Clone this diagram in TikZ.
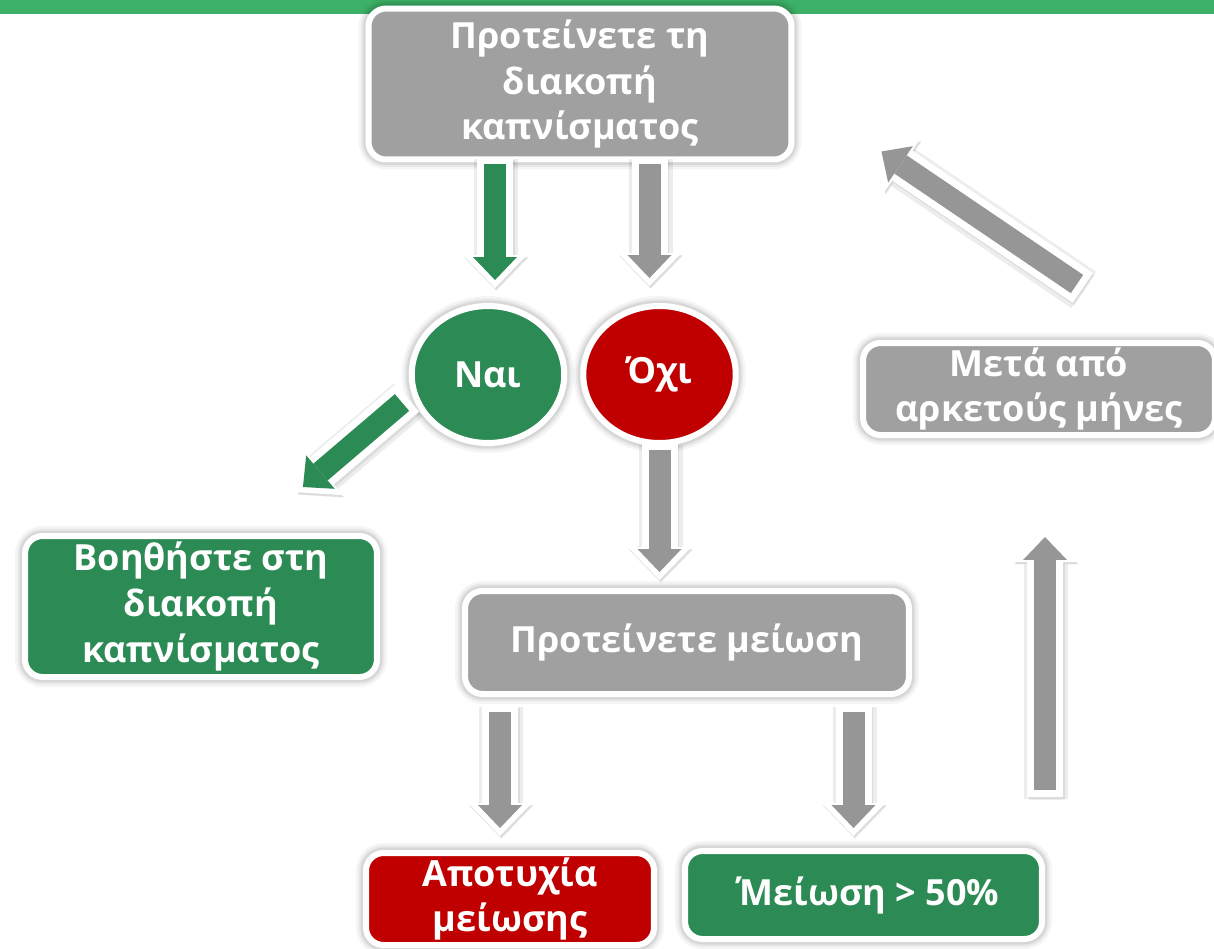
\documentclass[tikz,border=0pt]{standalone}
\usepackage{fontspec}
\newfontfamily\boxfont{Open Sans}
\usetikzlibrary{shapes.geometric,arrows.meta,shadows,calc}
\definecolor{boxgrey}{RGB}{160,160,160}
\definecolor{flowgrey}{RGB}{150,150,150}
\definecolor{boxgreen}{RGB}{44,138,84}
\definecolor{boxred}{RGB}{192,0,0}
\definecolor{topbar}{RGB}{60,176,102}
\tikzset{
    box/.style={
        draw=white,
        line width=0.12cm,
        rounded corners=0.35cm,
        text=white,
        align=center,
        inner sep=0pt,
        font=\boxfont\bfseries\fontsize{20.5}{26}\selectfont,
        drop shadow={shadow xshift=0.03cm, shadow yshift=-0.06cm, opacity=0.18},
        preaction={draw=black, draw opacity=0.04, line width=0.40cm},
        preaction={draw=black, draw opacity=0.05, line width=0.30cm},
        preaction={draw=black, draw opacity=0.07, line width=0.22cm}
    },
    yesno/.style={box, ellipse, minimum width=3.05cm, minimum height=2.74cm},
    flowrim/.style={white, line width=0.72cm, -{Triangle[length=0.66cm, width=1.28cm, line width=0pt]}},
    flowshade/.style={flowrim, draw=black, opacity=0.07},
    flowbody/.style={line width=0.44cm, -{Triangle[length=0.46cm, width=0.88cm, line width=0pt]}}
}
\newcommand{\flow}[3]{
    \draw[flowshade, line width=0.88cm, transform canvas={xshift=0.02cm, yshift=-0.04cm}] ($(#2)!-0.14cm!(#3)$) -- ($(#3)!-0.16cm!(#2)$);
    \draw[flowshade, transform canvas={xshift=0.03cm, yshift=-0.05cm}] ($(#2)!-0.14cm!(#3)$) -- ($(#3)!-0.16cm!(#2)$);
    \draw[flowrim] ($(#2)!-0.14cm!(#3)$) -- ($(#3)!-0.16cm!(#2)$);
    \draw[flowbody, #1] (#2) -- (#3);
}

\begin{document}
\begin{tikzpicture}[x=0.02cm, y=-0.02cm]
    \useasboundingbox (0,0) rectangle (1214,948);
    \clip (0,0) rectangle (1214,948);
    \fill[white] (0,0) rectangle (1214,948);
    \fill[topbar] (0,0) rectangle (1214,14);

    % boxes
    \node[box, fill=boxgrey, minimum width=8.46cm, minimum height=3.02cm] (top) at (580,84) {Προτείνετε τη\\διακοπή\\καπνίσματος};
    \node[yesno, fill=boxgreen] (nai) at (488,374.5) {Ναι};
    \node[yesno, fill=boxred] (ochi) at (659.5,374.5) {Όχι};
    \node[box, fill=boxgreen, minimum width=7.04cm, minimum height=2.82cm] (help) at (201,606.5) {Βοηθήστε στη\\διακοπή\\καπνίσματος};
    \node[box, fill=boxgrey, minimum width=8.88cm, minimum height=2.06cm] (reduce) at (687,642.5) {Προτείνετε μείωση};
    \node[box, fill=boxred, minimum width=5.76cm, minimum height=1.84cm] (fail) at (510,899) {Αποτυχία\\μείωσης};
    \node[box, fill=boxgreen, minimum width=7.14cm, minimum height=1.76cm] (half) at (863.5,895) {΄\kern-0.25em Μείωση > 50\%};
    \node[box, fill=boxgrey, minimum width=7.04cm, minimum height=1.84cm] (months) at (1039,389) {Μετά από\\αρκετούς μήνες};

    % arrow ends
    \coordinate (a1s) at ($(nai.north |- top.south)+(7,2)$);
    \coordinate (a1e) at ($(nai.north)+(7,-23)$);
    \coordinate (a2s) at ($(ochi.north |- top.south)+(-10,2)$);
    \coordinate (a2e) at ($(ochi.north)+(-10,-25)$);
    \coordinate (a3s) at ($(nai.center)+(-86,28)$);
    \coordinate (a3e) at ($(help.north east)+(-77,-46)$);
    \coordinate (a4s) at ($(ochi.south)+(0,4)$);
    \coordinate (a4e) at ($(ochi.south |- reduce.north)+(0,-16)$);
    \coordinate (a5s) at ($(fail.north |- reduce.south)+(-10,15)$);
    \coordinate (a5e) at ($(fail.north)+(-10,-22)$);
    \coordinate (a6s) at ($(half.north |- reduce.south)+(-10,15)$);
    \coordinate (a6e) at ($(half.north)+(-10,-20)$);
    \coordinate (a7s) at ($(months.south |- half.north)+(6,-58)$);
    \coordinate (a7e) at ($(months.south)+(6,99)$);
    \coordinate (a8s) at ($(months.north)+(38,-56)$);
    \coordinate (a8e) at ($(top.south east)+(87,-11)$);

    % arrows
    \flow{boxgreen}{a1s}{a1e}
    \flow{flowgrey}{a2s}{a2e}
    \flow{boxgreen}{a3s}{a3e}
    \flow{flowgrey}{a4s}{a4e}
    \flow{flowgrey}{a5s}{a5e}
    \flow{flowgrey}{a6s}{a6e}
    \flow{flowgrey}{a7s}{a7e}
    \flow{flowgrey}{a8s}{a8e}
\end{tikzpicture}
\end{document}
